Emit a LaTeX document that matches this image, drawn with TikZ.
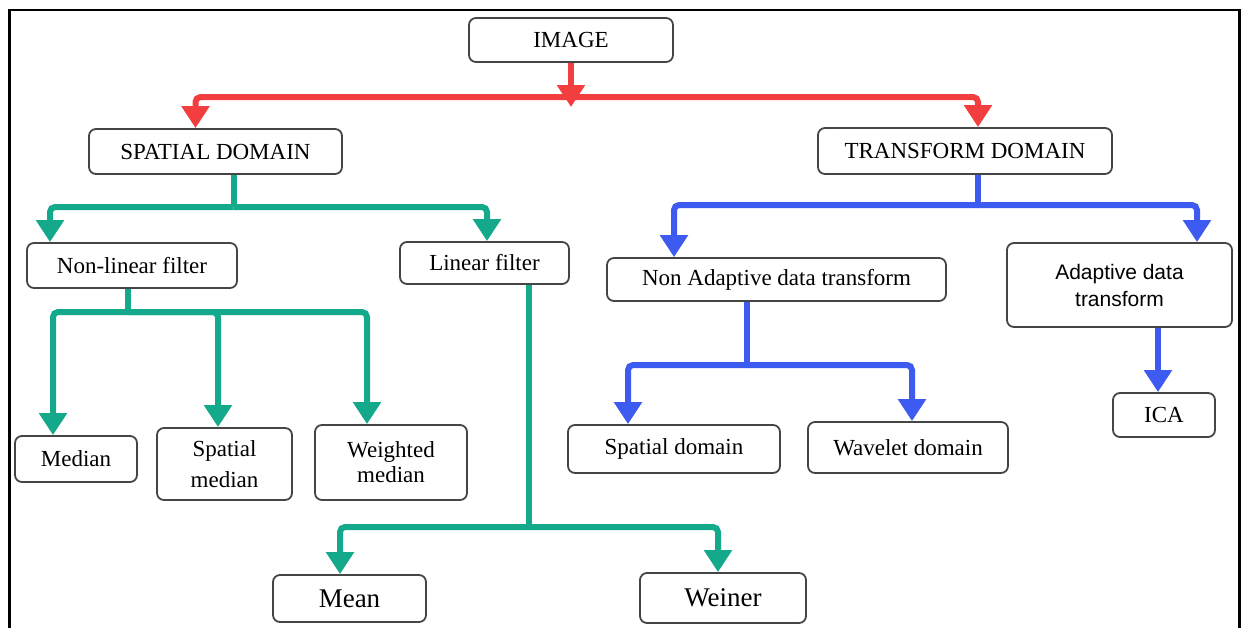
\documentclass[tikz,border=0pt]{standalone}
\usepackage{fontspec}
\setmainfont{Liberation Serif}
\newfontfamily\arialfont{Liberation Sans}
\usetikzlibrary{positioning,arrows.meta,calc}
\definecolor{rootred}{HTML}{F23E3E}
\definecolor{spgreen}{HTML}{14A98A}
\definecolor{trblue}{HTML}{3D5AF1}
\definecolor{boxgray}{HTML}{454545}

\begin{document}
\begin{tikzpicture}[
    x=1pt, y=-1pt,
    every node/.style={font=\fontsize{23}{27}\selectfont},
    box/.style={
        draw=boxgray, fill=white, rounded corners=7pt,
        line width=1.8pt, inner sep=0pt, align=center
    },
    big/.style={font=\fontsize{27}{31}\selectfont},
    stem/.style={line width=6pt, color=#1},
    arr/.style={-{Triangle[width=27pt,length=22pt]}, line width=6pt,
        rounded corners=5pt, color=#1},
]
\useasboundingbox (0,0) rectangle (1243,627);
\clip (0,0) rectangle (1243,627);

% Frame
\draw[line width=2.5pt] (9.5,640) -- (9.5,10) -- (1239.5,10) -- (1239.5,640);

% Top levels
\node[box, minimum width=204pt, minimum height=44pt] (image) at (571,40) {IMAGE};
\node[box, minimum width=253pt, minimum height=45pt] (spatial) at (215.5,151.5) {SPATIAL DOMAIN};
\node[box, minimum width=294pt, minimum height=46pt] (transform) at (965,151) {TRANSFORM DOMAIN};

% === Spatial domain side ===
\node[box, minimum width=210pt, minimum height=45pt] (nonlin) at (132,265.5) {Non-linear filter};
\node[box, minimum width=169pt, minimum height=42pt] (linear) at (484.5,263) {Linear filter};
\node[box, minimum width=122pt, minimum height=46pt] (median) at (76,459) {Median};
\node[box, minimum width=135pt, minimum height=72pt] (spmedian) at (224.5,464) {Spatial\\[4pt]median};
\node[box, minimum width=152pt, minimum height=75pt] (wmedian) at (391,462.5) {Weighted\\[-2pt]median};
\node[box, big, minimum width=153pt, minimum height=47pt] (mean) at (349.5,598.5) {Mean};
\node[box, big, minimum width=166pt, minimum height=50pt] (weiner) at (723,598) {Weiner};

% === Transform domain side ===
\node[box, minimum width=339pt, minimum height=43pt] (nonadapt) at (776.5,279.5) {Non Adaptive data transform};
\node[box, minimum width=225pt, minimum height=84pt, font=\arialfont\fontsize{21}{27}\selectfont] (adapt) at (1119.5,285) {Adaptive data\\transform};
\node[box, minimum width=212pt, minimum height=48pt] (spdomain) at (674,449) {Spatial domain};
\node[box, minimum width=200pt, minimum height=51pt] (wavelet) at (908,447.5) {Wavelet domain};
\node[box, minimum width=102pt, minimum height=44pt] (ica) at (1164,415) {ICA};

% Branch points
\coordinate (redhub) at (571,97);
\coordinate (redtip) at (571,107);
\coordinate (greenhub) at (233.5,207);
\coordinate (nlhub) at (128,312);
\coordinate (linhub) at (529,527);
\coordinate (bluehub) at (978,205);
\coordinate (nahub) at (747,365);

% Red arrows
\draw[arr=rootred] (redhub) -| ([xshift=-20]spatial.north);
\draw[arr=rootred] (redhub) -| ([xshift=13]transform.north);
\draw[arr=rootred] (image.south) -- (redtip);

% Green arrows
\draw[stem=spgreen] (spatial.south -| greenhub) -- (greenhub);
\draw[arr=spgreen] (greenhub) -| ([xshift=-82]nonlin.north);
\draw[arr=spgreen] (greenhub) -| ([xshift=2.5]linear.north);
\draw[stem=spgreen] (nonlin.south -| nlhub) -- (nlhub);
\draw[arr=spgreen] (nlhub) -| ([xshift=-23]median.north);
\draw[arr=spgreen] (nlhub) -| ([xshift=-6.5]spmedian.north);
\draw[arr=spgreen] (nlhub) -| ([xshift=-24]wmedian.north);
\draw[stem=spgreen] (linear.south -| linhub) -- (linhub);
\draw[arr=spgreen] (linhub) -| ([xshift=-9.5]mean.north);
\draw[arr=spgreen] (linhub) -| ([xshift=-5]weiner.north);

% Blue arrows
\draw[stem=trblue] (transform.south -| bluehub) -- (bluehub);
\draw[arr=trblue] (bluehub) -| ([xshift=-102.5]nonadapt.north);
\draw[arr=trblue] (bluehub) -| ([xshift=77.5]adapt.north);
\draw[stem=trblue] (nonadapt.south -| nahub) -- (nahub);
\draw[arr=trblue] (nahub) -| ([xshift=-46]spdomain.north);
\draw[arr=trblue] (nahub) -| ([xshift=4]wavelet.north);
\draw[arr=trblue] ([xshift=38.5]adapt.south) -- ([xshift=-6]ica.north);

\end{tikzpicture}
\end{document}
